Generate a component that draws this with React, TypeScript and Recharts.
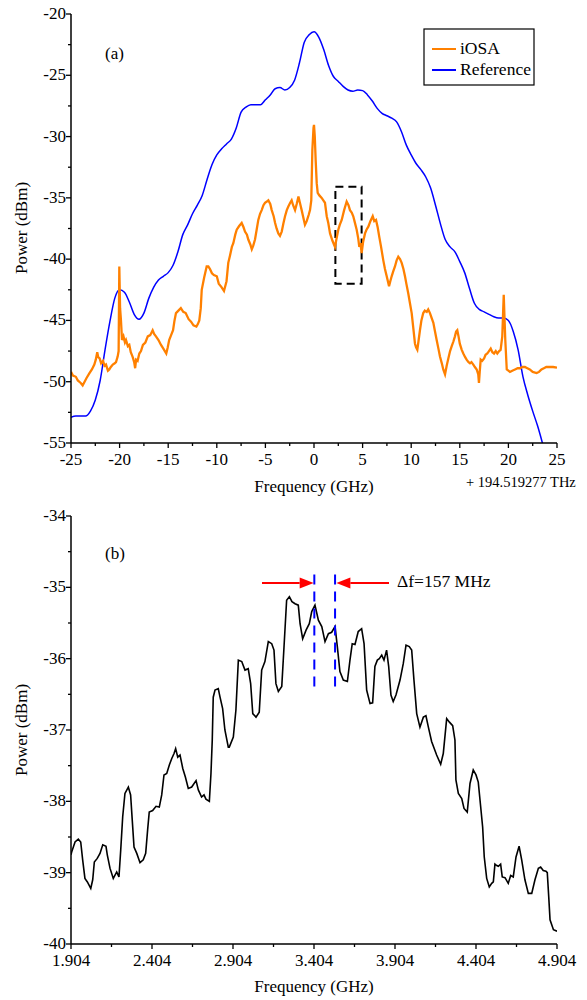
import React from "react";
import { LineChart, Line, XAxis, YAxis, ReferenceArea, ReferenceLine } from "recharts";

const FONT = "'Liberation Serif', 'Times New Roman', serif";

// panel (a): reference OSA trace
const refFreq = [
  -25, -24.5, -24, -23.5, -23, -22.5, -22, -21.5, -21, -20.5, -20, -19.5, -19, -18.5, -18, -17.5, -17, -16.5, -16, -15.5,
  -15, -14.5, -14, -13.5, -13, -12.5, -12, -11.5, -11, -10.5, -10, -9.5, -9, -8.5, -8, -7.5, -7, -6.5, -6, -5.5,
  -5, -4.5, -4, -3.5, -3, -2.5, -2, -1.5, -1, -0.5, 0, 0.5, 1, 1.5, 2, 2.5, 3, 3.5, 4, 4.5,
  5, 5.5, 6, 6.5, 7, 7.5, 8, 8.5, 9, 9.5, 10, 10.5, 11, 11.5, 12, 12.5, 13, 13.5, 14, 14.5,
  15, 15.5, 16, 16.5, 17, 17.5, 18, 18.5, 19, 19.5, 20, 20.5, 21, 21.5, 22, 22.5, 23, 23.5, 24, 24.5, 25,
];
const refPower = [
  -52.9, -52.8, -52.8, -52.8, -52.4, -51.5, -49.9, -47.4, -45.1, -43.2, -42.5, -42.7, -43.5, -44.5, -44.9, -44.4, -43.2, -42.3, -41.7, -41.4,
  -41.1, -40.5, -39.4, -38.0, -37.2, -36.3, -35.6, -34.8, -33.5, -32.3, -31.5, -31.0, -30.6, -30.2, -29.3, -28.0, -27.6, -27.4, -27.4, -27.4,
  -27.0, -26.6, -26.1, -26.0, -26.2, -26.0, -25.4, -24.0, -22.3, -21.7, -21.45, -21.9, -22.9, -24.2, -25.1, -25.5, -25.9, -26.2, -26.3, -26.2,
  -26.25, -26.6, -27.1, -27.7, -28.1, -28.3, -28.5, -28.8, -29.6, -30.7, -31.5, -32.2, -32.7, -33.3, -34.2, -35.6, -37.1, -38.4, -39.0, -39.4,
  -40.2, -41.1, -42.4, -43.6, -44.1, -44.3, -44.5, -44.7, -44.8, -44.8, -45.0, -45.9, -47.4, -49.6, -51.1, -52.4, -53.6, -55.0, -56.5, -58.0, -59.5,
];

// panel (a): iOSA trace
const iosaFreq = [
  -25, -24.8, -24.5, -24.3, -24, -23.8, -23.6, -23.4, -23.1, -22.85, -22.6, -22.45, -22.3, -22.2, -22.05, -21.9, -21.7, -21.55, -21.4, -21.2,
  -21.06, -20.9, -20.7, -20.5, -20.37, -20.2, -20.1, -20.03, -19.95, -19.86, -19.75, -19.6, -19.45, -19.34, -19.15, -19, -18.85, -18.65, -18.5, -18.4,
  -18.3, -18.15, -17.97, -17.8, -17.6, -17.35, -17.1, -16.85, -16.6, -16.45, -16.26, -16, -15.74, -15.5, -15.2, -15.05, -14.9, -14.7, -14.5, -14.35,
  -14.2, -13.95, -13.7, -13.45, -13.2, -12.9, -12.65, -12.4, -12.1, -11.95, -11.8, -11.65, -11.55, -11.3, -11.04, -10.87, -10.7, -10.5, -10.3, -10,
  -9.8, -9.5, -9.26, -9, -8.82, -8.64, -8.45, -8.3, -8.1, -7.95, -7.7, -7.44, -7.25, -7.1, -6.9, -6.76, -6.55, -6.4, -6.25, -6.07,
  -5.9, -5.73, -5.55, -5.38, -5.2, -5.04, -4.85, -4.7, -4.5, -4.35, -4.15, -4, -3.85, -3.67, -3.5, -3.32, -3.15, -2.98, -2.8, -2.64,
  -2.45, -2.3, -2.15, -1.95, -1.78, -1.6, -1.45, -1.27, -1.1, -0.93, -0.75, -0.55, -0.41, -0.28, -0.17, -0.05, 0, 0.08, 0.17, 0.28,
  0.38, 0.55, 0.79, 0.96, 1.13, 1.31, 1.47, 1.65, 1.9, 2.16, 2.3, 2.5, 2.65, 2.85, 3.1, 3.36, 3.55, 3.7, 3.88, 4.04,
  4.2, 4.39, 4.55, 4.66, 4.78, 4.9, 5.05, 5.25, 5.4, 5.59, 5.8, 6.04, 6.2, 6.38, 6.55, 6.72, 6.9, 7.13, 7.3, 7.48,
  7.72, 7.85, 7.99, 8.15, 8.33, 8.5, 8.67, 8.85, 9.02, 9.2, 9.36, 9.5, 9.7, 9.85, 10.05, 10.2, 10.39, 10.5, 10.63, 10.75,
  10.9, 11.05, 11.24, 11.4, 11.6, 11.75, 11.93, 12.1, 12.28, 12.45, 12.62, 12.8, 12.96, 13.15, 13.3, 13.48, 13.65, 13.82, 14, 14.17,
  14.35, 14.5, 14.62, 14.74, 14.87, 15, 15.2, 15.36, 15.55, 15.7, 15.9, 16.05, 16.2, 16.39, 16.55, 16.74, 16.9, 16.97, 17.05, 17.15,
  17.3, 17.5, 17.65, 17.83, 18, 18.18, 18.35, 18.52, 18.7, 18.86, 19.05, 19.2, 19.37, 19.45, 19.52, 19.6, 19.68, 19.83, 20, 20.16,
  20.4, 20.68, 20.95, 21.2, 21.45, 21.7, 21.95, 22.2, 22.5, 22.9, 23.15, 23.4, 23.65, 23.9, 24.25, 24.6, 25,
];
const iosaPower = [
  -49.2, -49.5, -49.6, -49.9, -50.1, -50.3, -50.0, -49.7, -49.3, -49.0, -48.6, -48.2, -47.6, -48.0, -48.1, -48.5, -48.3, -48.7, -48.6, -49.1,
  -49.0, -48.8, -48.6, -48.5, -48.4, -47.95, -47.5, -40.6, -44.0, -45.0, -46.6, -46.3, -46.8, -46.6, -47.1, -47.0, -47.6, -48.0, -48.4, -48.9,
  -48.2, -48.3, -47.7, -47.5, -47.0, -46.8, -46.3, -46.2, -45.8, -46.1, -46.3, -46.6, -47.0, -47.3, -47.7, -47.2, -46.6, -46.2, -45.8, -45.0,
  -44.4, -44.2, -44.0, -44.3, -44.4, -44.9, -45.1, -45.4, -45.5, -45.3, -45.0, -44.0, -42.5, -41.5, -40.6, -40.6, -40.8, -41.15, -41.3, -41.4,
  -42.0, -42.3, -42.6, -41.8, -40.3, -39.7, -39.0, -38.7, -38.0, -37.6, -37.3, -37.05, -37.4, -37.75, -38.0, -38.4, -38.8, -39.2, -38.9, -38.4,
  -37.6, -36.8, -36.3, -36.0, -35.6, -35.4, -35.3, -35.2, -35.5, -36.0, -36.5, -37.05, -37.5, -37.9, -38.1, -37.75, -37.1, -36.5, -36.0, -35.7,
  -35.4, -35.2, -35.6, -36.0, -35.5, -34.9, -35.4, -36.0, -36.6, -37.2, -36.9, -36.4, -36.0, -35.2, -31.1, -29.3, -29.05, -30.0, -31.9, -33.8,
  -34.6, -34.8, -35.0, -35.2, -35.4, -36.5, -37.05, -37.9, -38.5, -39.0, -38.4, -37.6, -37.2, -36.8, -36.0, -35.3, -35.6, -36.0, -36.2, -36.5,
  -37.0, -37.6, -38.3, -39.0, -38.7, -39.5, -38.6, -37.9, -37.6, -37.35, -36.9, -36.5, -36.9, -36.8, -37.4, -38.2, -39.0, -40.1, -40.8, -41.4,
  -42.2, -41.8, -41.4, -41.0, -40.6, -40.1, -39.8, -40.0, -40.3, -40.8, -41.4, -42.0, -42.8, -43.5, -44.4, -45.5, -46.9, -47.2, -47.4, -46.7,
  -45.8, -45.0, -44.4, -44.2, -44.3, -44.1, -44.4, -44.8, -45.2, -45.9, -46.6, -47.3, -47.95, -48.5, -49.0, -49.4, -48.7, -48.1, -47.5, -47.1,
  -46.7, -46.3, -45.9, -45.8, -46.3, -46.9, -47.4, -47.7, -48.0, -48.2, -48.4, -48.5, -48.4, -48.6, -48.8, -49.0, -49.4, -50.1, -49.2, -48.2,
  -48.3, -48.1, -47.8, -47.7, -47.5, -47.3, -47.6, -47.7, -47.5, -47.7, -47.5, -47.4, -46.3, -44.5, -42.9, -44.8, -46.6, -49.0, -49.1, -49.2,
  -49.1, -49.0, -48.9, -48.9, -48.8, -48.8, -48.9, -49.0, -49.2, -49.3, -49.2, -49.0, -48.9, -48.8, -48.8, -48.8, -48.85,
];

// panel (b): zoomed iOSA trace
const zoomFreq = [
  1.904, 1.908, 1.929, 1.949, 1.964, 1.976, 1.99, 2.005, 2.026, 2.038, 2.048, 2.066, 2.083, 2.1, 2.12, 2.128, 2.145, 2.165, 2.186, 2.2,
  2.211, 2.223, 2.237, 2.258, 2.272, 2.282, 2.293, 2.31, 2.33, 2.35, 2.365, 2.377, 2.387, 2.408, 2.429, 2.449, 2.464, 2.478, 2.495, 2.511,
  2.526, 2.54, 2.55, 2.563, 2.577, 2.594, 2.61, 2.628, 2.649, 2.676, 2.69, 2.71, 2.725, 2.737, 2.758, 2.768, 2.776, 2.782, 2.793, 2.813,
  2.824, 2.84, 2.854, 2.875, 2.881, 2.906, 2.922, 2.937, 2.958, 2.978, 2.998, 3.013, 3.026, 3.046, 3.066, 3.081, 3.101, 3.122, 3.143, 3.157,
  3.169, 3.184, 3.205, 3.219, 3.235, 3.252, 3.268, 3.287, 3.307, 3.318, 3.334, 3.355, 3.375, 3.39, 3.41, 3.431, 3.452, 3.472, 3.493, 3.513,
  3.534, 3.548, 3.564, 3.585, 3.61, 3.626, 3.64, 3.657, 3.677, 3.698, 3.713, 3.729, 3.75, 3.766, 3.78, 3.795, 3.807, 3.822, 3.836, 3.852,
  3.865, 3.879, 3.893, 3.91, 3.935, 3.955, 3.972, 3.992, 4.007, 4.021, 4.038, 4.058, 4.079, 4.095, 4.11, 4.13, 4.161, 4.186, 4.202, 4.223,
  4.24, 4.26, 4.274, 4.28, 4.295, 4.316, 4.33, 4.35, 4.367, 4.387, 4.404, 4.418, 4.433, 4.445, 4.455, 4.47, 4.486, 4.501, 4.511, 4.521,
  4.532, 4.542, 4.556, 4.566, 4.583, 4.603, 4.618, 4.634, 4.651, 4.67, 4.686, 4.706, 4.727, 4.748, 4.768, 4.789, 4.803, 4.819, 4.836, 4.844,
  4.853, 4.861, 4.882, 4.904,
];
const zoomPower = [
  -38.75, -38.71, -38.57, -38.53, -38.57, -38.82, -39.08, -39.13, -39.22, -39.1, -38.85, -38.8, -38.73, -38.61, -38.63, -38.75, -38.94, -39.08, -38.99, -39.06,
  -38.68, -38.22, -37.89, -37.8, -37.91, -38.26, -38.64, -38.73, -38.86, -38.82, -38.73, -38.4, -38.15, -38.13, -38.07, -38.08, -37.91, -37.63, -37.61, -37.49,
  -37.4, -37.33, -37.26, -37.38, -37.35, -37.54, -37.66, -37.82, -37.8, -37.71, -37.84, -37.94, -37.91, -37.97, -38.0, -37.61, -37.14, -36.54, -36.44, -36.42,
  -36.54, -36.7, -37.0, -37.24, -37.24, -37.1, -36.72, -36.02, -36.04, -36.16, -36.14, -36.35, -36.77, -36.82, -36.75, -36.16, -36.04, -35.76, -35.79, -35.88,
  -36.35, -36.46, -36.39, -35.83, -35.18, -35.13, -35.2, -35.23, -35.25, -35.51, -35.72, -35.6, -35.51, -35.34, -35.25, -35.46, -35.55, -35.76, -35.65, -35.63,
  -35.55, -35.83, -36.18, -36.3, -36.32, -36.02, -35.79, -35.8, -35.62, -35.58, -35.79, -36.44, -36.63, -36.62, -36.11, -36.02, -36.0, -35.95, -36.02, -35.88,
  -36.11, -36.51, -36.6, -36.51, -36.3, -36.07, -35.81, -35.83, -35.88, -36.3, -36.77, -36.96, -36.82, -36.8, -36.96, -37.16, -37.35, -37.48, -37.33, -36.84,
  -36.89, -36.94, -37.14, -37.7, -37.89, -37.96, -38.1, -38.15, -37.75, -37.56, -37.63, -37.73, -38.08, -38.36, -38.78, -39.08, -39.2, -39.15, -39.13, -38.88,
  -38.9, -38.91, -38.88, -39.06, -39.07, -39.15, -39.04, -39.06, -38.78, -38.63, -38.82, -39.1, -39.29, -39.29, -39.1, -38.94, -38.92, -38.97, -38.98, -39.0,
  -39.34, -39.66, -39.8, -39.82,
];

const aXTicks = [-25, -22.5, -20, -17.5, -15, -12.5, -10, -7.5, -5, -2.5, 0, 2.5, 5, 7.5, 10, 12.5, 15, 17.5, 20, 22.5, 25];
const aXMajor = [-25, -20, -15, -10, -5, 0, 5, 10, 15, 20, 25];
const aYTicks = [-55, -52.5, -50, -47.5, -45, -42.5, -40, -37.5, -35, -32.5, -30, -27.5, -25, -22.5, -20];
const aYMajor = [-55, -50, -45, -40, -35, -30, -25, -20];
const bXTicks = [1.904, 2.154, 2.404, 2.654, 2.904, 3.154, 3.404, 3.654, 3.904, 4.154, 4.404, 4.654, 4.904];
const bXMajor = [1.904, 2.404, 2.904, 3.404, 3.904, 4.404, 4.904];
const bYTicks = [-40, -39.5, -39, -38.5, -38, -37.5, -37, -36.5, -36, -35.5, -35, -34.5, -34];
const bYMajor = [-40, -39, -38, -37, -36, -35, -34];

const refData = refFreq.map((f, i) => ({ f, p: refPower[i] }));
const iosaData = iosaFreq.map((f, i) => ({ f, p: iosaPower[i] }));
const zoomData = zoomFreq.map((f, i) => ({ f, p: zoomPower[i] }));

type Side = "bottom" | "top" | "left" | "right";

const txt = { fontFamily: FONT, fontSize: 17 };

function makeTick(side: Side, majors: number[], fmt: (v: number) => string) {
  return (props: any) => {
    const { x, y, payload } = props;
    const v = payload.value;
    const major = majors.some((m) => Math.abs(m - v) < 1e-6);
    const len = major ? 5 : 3;
    const ln = { stroke: "#000", strokeWidth: 1.3 };
    let line;
    let label = null;
    if (side === "bottom") {
      line = <line x1={x} y1={y} x2={x} y2={y + len} {...ln} />;
      if (major)
        label = (
          <text x={x} y={y + 22} textAnchor="middle" fill="#000" style={txt}>
            {fmt(v)}
          </text>
        );
    } else if (side === "top") {
      line = <line x1={x} y1={y} x2={x} y2={y + len} {...ln} />;
    } else if (side === "left") {
      line = <line x1={x} y1={y} x2={x - len} y2={y} {...ln} />;
      if (major)
        label = (
          <text x={x - 5} y={y + 5} textAnchor="end" fill="#000" style={txt}>
            {fmt(v)}
          </text>
        );
    } else {
      line = <line x1={x} y1={y} x2={x - len} y2={y} {...ln} />;
    }
    return (
      <g>
        {line}
        {label}
      </g>
    );
  };
}

const Arrow = (p: any) => {
  const { x1, y1, x2, y2 } = p;
  const dir = Math.sign(x2 - x1);
  const hx = x2 - dir * 14;
  return (
    <g>
      <line x1={x1} y1={y1} x2={hx} y2={y2} stroke="#ff0000" strokeWidth={2} />
      <polygon points={`${x2},${y2} ${hx},${y2 - 5.5} ${hx},${y2 + 5.5}`} fill="#ff0000" />
    </g>
  );
};

const axisLine = { stroke: "#000", strokeWidth: 1.5 };
const fmtInt = (v: number) => String(v);
const fmtGHz = (v: number) => v.toFixed(3);

export default function App() {
  return (
    <div style={{ position: "absolute", left: 0, top: 0, width: 587, height: 1000, background: "#fff" }}>
      <div style={{ position: "absolute", left: 0, top: 0 }}>
        <LineChart width={587} height={490} margin={{ top: 14, right: 30, left: 11, bottom: 7 }}>
          <XAxis xAxisId="b" type="number" dataKey="f" domain={[-25, 25]} ticks={aXTicks} interval={0} allowDataOverflow
            height={40} tickSize={0} tickMargin={0} tickLine={false} axisLine={axisLine} tick={makeTick("bottom", aXMajor, fmtInt)} />
          <XAxis xAxisId="t" orientation="top" type="number" dataKey="f" domain={[-25, 25]} ticks={aXTicks} interval={0} allowDataOverflow
            height={0} tickSize={0} tickMargin={0} tickLine={false} axisLine={axisLine} tick={makeTick("top", aXMajor, fmtInt)} />
          <YAxis yAxisId="l" type="number" domain={[-55, -20]} ticks={aYTicks} interval={0} allowDataOverflow
            width={60} tickSize={0} tickMargin={0} tickLine={false} axisLine={axisLine} tick={makeTick("left", aYMajor, fmtInt)} />
          <YAxis yAxisId="r" orientation="right" type="number" domain={[-55, -20]} ticks={aYTicks} interval={0} allowDataOverflow
            width={0} tickSize={0} tickMargin={0} tickLine={false} axisLine={axisLine} tick={makeTick("right", aYMajor, fmtInt)} />
          <Line xAxisId="b" yAxisId="l" data={refData} dataKey="p" type="monotone" stroke="#0000ff" strokeWidth={1.5}
            dot={false} isAnimationActive={false} />
          <Line xAxisId="b" yAxisId="l" data={iosaData} dataKey="p" type="linear" stroke="#ff8000" strokeWidth={2.3}
            dot={false} isAnimationActive={false} />
          <ReferenceArea xAxisId="b" yAxisId="l" x1={2.2} x2={4.9} y1={-42} y2={-34.1} fill="none" stroke="#000"
            strokeWidth={2} strokeDasharray="8 5" />
        </LineChart>
      </div>
      <div style={{ position: "absolute", left: 0, top: 490 }}>
        <LineChart width={587} height={510} margin={{ top: 26, right: 30, left: 11, bottom: 16 }}>
          <XAxis xAxisId="b" type="number" dataKey="f" domain={[1.904, 4.904]} ticks={bXTicks} interval={0} allowDataOverflow
            height={40} tickSize={0} tickMargin={0} tickLine={false} axisLine={axisLine} tick={makeTick("bottom", bXMajor, fmtGHz)} />
          <XAxis xAxisId="t" orientation="top" type="number" dataKey="f" domain={[1.904, 4.904]} ticks={bXTicks} interval={0} allowDataOverflow
            height={0} tickSize={0} tickMargin={0} tickLine={false} axisLine={axisLine} tick={makeTick("top", bXMajor, fmtGHz)} />
          <YAxis yAxisId="l" type="number" domain={[-40, -34]} ticks={bYTicks} interval={0} allowDataOverflow
            width={60} tickSize={0} tickMargin={0} tickLine={false} axisLine={axisLine} tick={makeTick("left", bYMajor, fmtInt)} />
          <YAxis yAxisId="r" orientation="right" type="number" domain={[-40, -34]} ticks={bYTicks} interval={0} allowDataOverflow
            width={0} tickSize={0} tickMargin={0} tickLine={false} axisLine={axisLine} tick={makeTick("right", bYMajor, fmtInt)} />
          <Line xAxisId="b" yAxisId="l" data={zoomData} dataKey="p" type="linear" stroke="#000" strokeWidth={1.6}
            dot={false} isAnimationActive={false} />
          <ReferenceLine xAxisId="b" yAxisId="l" segment={[{ x: 3.406, y: -34.82 }, { x: 3.406, y: -36.39 }]}
            stroke="#0000ff" strokeWidth={2} strokeDasharray="10 7" />
          <ReferenceLine xAxisId="b" yAxisId="l" segment={[{ x: 3.534, y: -34.82 }, { x: 3.534, y: -36.39 }]}
            stroke="#0000ff" strokeWidth={2} strokeDasharray="10 7" />
          <ReferenceLine xAxisId="b" yAxisId="l" segment={[{ x: 3.083, y: -34.94 }, { x: 3.402, y: -34.94 }]} shape={Arrow} />
          <ReferenceLine xAxisId="b" yAxisId="l" segment={[{ x: 3.867, y: -34.94 }, { x: 3.542, y: -34.94 }]} shape={Arrow} />
        </LineChart>
      </div>
      <svg width={587} height={1000} style={{ position: "absolute", left: 0, top: 0, pointerEvents: "none", fontFamily: FONT }}
        fill="#000">
        <text x={105} y={59} fontSize={17}>(a)</text>
        <text x={105} y={559} fontSize={17}>(b)</text>
        <rect x={424} y={29} width={110} height={56} fill="#fff" stroke="#000" strokeWidth={1.2} />
        <line x1={432} y1={49} x2={456} y2={49} stroke="#ff8000" strokeWidth={2} />
        <text x={460} y={54} fontSize={17.5}>iOSA</text>
        <line x1={432} y1={70} x2={456} y2={70} stroke="#0000ff" strokeWidth={2} />
        <text x={460} y={75} fontSize={17.5}>Reference</text>
        <text x={314} y={492} fontSize={17} textAnchor="middle">Frequency (GHz)</text>
        <text x={466} y={487} fontSize={14.5}>+ 194.519277 THz</text>
        <text x={314} y={992} fontSize={17} textAnchor="middle">Frequency (GHz)</text>
        <text x={22} y={228} fontSize={17} textAnchor="middle" transform="rotate(-90 22 228)" dy={5}>Power (dBm)</text>
        <text x={22} y={730} fontSize={17} textAnchor="middle" transform="rotate(-90 22 730)" dy={5}>Power (dBm)</text>
        <text x={397} y={587} fontSize={17.5}>Δf=157 MHz</text>
      </svg>
    </div>
  );
}
